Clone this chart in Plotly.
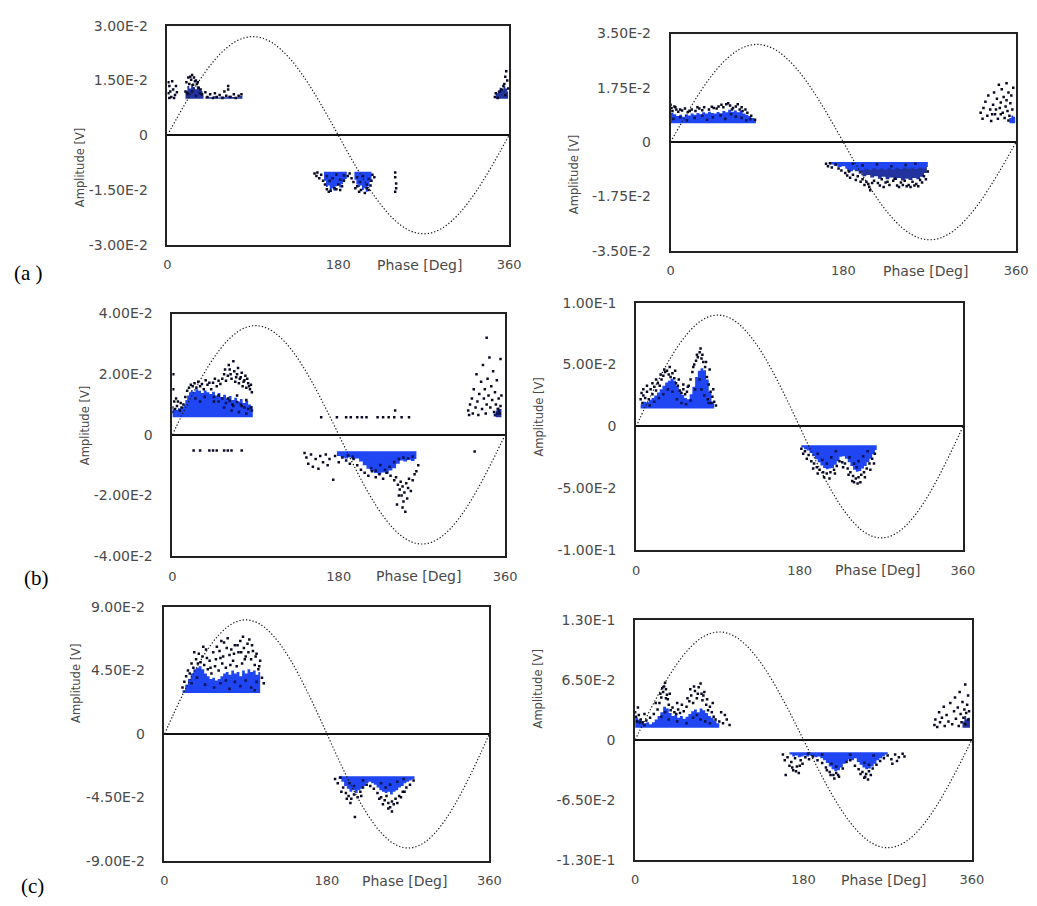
import plotly.graph_objects as go

W, H = 1037, 906

# ---------------------------------------------------------------------------
# Reference supply voltage, normalised, sampled every 10 degrees
# ---------------------------------------------------------------------------
wave_phase = list(range(0, 361, 10))
wave_shape = [0.000, 0.174, 0.342, 0.500, 0.643, 0.766, 0.866, 0.940, 0.985, 1.000,
              0.985, 0.940, 0.866, 0.766, 0.643, 0.500, 0.342, 0.174, 0.000,
              -0.174, -0.342, -0.500, -0.643, -0.766, -0.866, -0.940, -0.985, -1.000,
              -0.985, -0.940, -0.866, -0.766, -0.643, -0.500, -0.342, -0.174, 0.000]

phase_ticks = [0, 180, 360]
axis_limit = [0.030, 0.035, 0.040, 0.100, 0.090, 0.130]
wave_peak = [0.027, 0.0315, 0.036, 0.090, 0.081, 0.117]
amp_tick_text = [
    ["3.00E-2", "1.50E-2", "0", "-1.50E-2", "-3.00E-2"],
    ["3.50E-2", "1.75E-2", "0", "-1.75E-2", "-3.50E-2"],
    ["4.00E-2", "2.00E-2", "0", "-2.00E-2", "-4.00E-2"],
    ["1.00E-1", "5.00E-2", "0", "-5.00E-2", "-1.00E-1"],
    ["9.00E-2", "4.50E-2", "0", "-4.50E-2", "-9.00E-2"],
    ["1.30E-1", "6.50E-2", "0", "-6.50E-2", "-1.30E-1"],
]
panel_tags = ["(a )", "(b)", "(c)"]

BLUE = "#1f46f2"
NAVY = "#22339f"

# ---------------------------------------------------------------------------
# Pulse clusters: phase list, edge amplitude list, trigger level, colour
# ---------------------------------------------------------------------------
# (a) left
a1_p2_phase = [19, 21, 23, 25, 27, 29, 31, 33, 35, 37, 38]
a1_p2_edge = [0.0122, 0.0135, 0.0128, 0.0140, 0.0132, 0.0126, 0.0134, 0.0127, 0.0121, 0.0115, 0.0108]
a1_tail_phase = [40, 44, 48, 52, 56, 60, 64, 68, 72, 76, 79]
a1_tail_edge = [0.0106, 0.0104, 0.0107, 0.0103, 0.0106, 0.0104, 0.0108, 0.0105, 0.0104, 0.0108, 0.0106]
a1_end_phase = [346, 348, 350, 352, 354, 356, 358, 359]
a1_end_edge = [0.0115, 0.0122, 0.0130, 0.0126, 0.0134, 0.0128, 0.0120, 0.0112]
a1_n1_phase = [165, 167, 169, 171, 173, 175, 177, 179, 181, 183, 185, 187, 189]
a1_n1_edge = [-0.0125, -0.0142, -0.0138, -0.0150, -0.0146, -0.0152, -0.0140, -0.0136,
              -0.0143, -0.0134, -0.0128, -0.0120, -0.0110]
a1_n2_phase = [197, 199, 201, 203, 205, 207, 209, 211, 213, 215]
a1_n2_edge = [-0.0122, -0.0135, -0.0142, -0.0138, -0.0150, -0.0145, -0.0155, -0.0140, -0.0128, -0.0112]
a1_dots = [(1, 0.0145), (2, 0.0135), (3, 0.0120), (1, 0.0115), (4, 0.0105), (6, 0.0125),
           (8, 0.0110), (9, 0.0135), (2, 0.0102), (7, 0.0102), (5, 0.0148), (10, 0.0118),
           (20, 0.0145), (22, 0.0158), (24, 0.0160), (26, 0.0165), (28, 0.0158), (30, 0.0150),
           (32, 0.0145), (23, 0.0140), (27, 0.0138), (33, 0.0130), (35, 0.0125), (19, 0.0120),
           (21, 0.0115), (36, 0.0112), (29, 0.0148), (25, 0.0152), (31, 0.0140),
           (40, 0.0118), (42, 0.0105), (45, 0.0112),
           (48, 0.0102), (50, 0.0115), (52, 0.0105), (55, 0.0110), (58, 0.0102), (60, 0.0120),
           (62, 0.0108), (64, 0.0135), (64, 0.0125), (66, 0.0105), (70, 0.0112), (72, 0.0102),
           (75, 0.0108), (78, 0.0112), (345, 0.0105), (346, 0.0115), (348, 0.0102),
           (350, 0.0120), (352, 0.0125), (354, 0.0135), (355, 0.0140), (356, 0.0160),
           (357, 0.0175), (358, 0.0150), (356, 0.0110), (359, 0.0128),
           (155, -0.0105), (157, -0.0112), (158, -0.0102), (160, -0.0118), (162, -0.0108),
           (164, -0.0125), (166, -0.0135), (168, -0.0148), (172, -0.0152), (176, -0.0145),
           (180, -0.0135), (184, -0.0140), (186, -0.0125), (190, -0.0112), (192, -0.0105),
           (194, -0.0118), (196, -0.0128), (200, -0.0140), (204, -0.0150), (208, -0.0158),
           (212, -0.0150), (215, -0.0125), (216, -0.0108), (218, -0.0115), (240, -0.0102),
           (240, -0.0115), (241, -0.0132), (241, -0.0145), (240, -0.0155),
           (170, -0.0155), (178, -0.0148), (182, -0.0150), (198, -0.0145), (202, -0.0155),
           (210, -0.0145), (214, -0.0138)]
a1_inner = [(168, -0.0112), (171, -0.0125), (174, -0.0118), (178, -0.0108), (182, -0.0122),
            (186, -0.0110), (200, -0.0115), (203, -0.0128), (206, -0.0112), (210, -0.0135),
            (212, -0.0120), (22, 0.0112), (26, 0.0120), (30, 0.0108), (34, 0.0115)]

# (a) right
a2_pos_phase = [0, 3, 6, 9, 12, 15, 18, 21, 24, 27, 30, 33, 36, 39, 42, 45, 48, 51, 54, 57,
                60, 63, 66, 69, 72, 75, 78, 81, 84, 87, 89]
a2_pos_edge = [0.0095, 0.0090, 0.0084, 0.0088, 0.0082, 0.0090, 0.0086, 0.0092, 0.0088, 0.0094,
               0.0090, 0.0096, 0.0092, 0.0098, 0.0094, 0.0092, 0.0097, 0.0093, 0.0100, 0.0096,
               0.0104, 0.0098, 0.0102, 0.0096, 0.0100, 0.0092, 0.0088, 0.0084, 0.0078, 0.0072, 0.0066]
a2_end_phase = [353, 355, 357, 359]
a2_end_edge = [0.0078, 0.0086, 0.0082, 0.0090]
a2_deep_phase = [184, 188, 192, 196, 200, 204, 208, 212, 216, 220, 224, 228, 232, 236, 240,
                 244, 248, 252, 256, 260, 264, 267]
a2_deep_edge = [-0.0095, -0.0088, -0.0094, -0.0102, -0.0110, -0.0106, -0.0114, -0.0110, -0.0118,
                -0.0112, -0.0120, -0.0114, -0.0122, -0.0116, -0.0124, -0.0118, -0.0122, -0.0116,
                -0.0120, -0.0112, -0.0100, -0.0085]
a2_neg_phase = [166, 170, 174, 178, 182, 186, 190, 194, 198, 202, 206, 210, 214, 218, 222,
                226, 230, 234, 238, 242, 246, 250, 254, 258, 262, 266, 268]
a2_neg_edge = [-0.0072, -0.0076, -0.0080, -0.0078, -0.0086, -0.0094, -0.0088, -0.0092, -0.0090,
               -0.0086, -0.0090, -0.0084, -0.0088, -0.0085, -0.0089, -0.0084, -0.0088, -0.0083,
               -0.0087, -0.0082, -0.0086, -0.0083, -0.0087, -0.0082, -0.0085, -0.0080, -0.0074]
a2_dots = [(0, 0.0120), (1, 0.0110), (2, 0.0100), (4, 0.0115), (6, 0.0105), (8, 0.0098),
           (12, 0.0102), (15, 0.0108), (18, 0.0097), (22, 0.0105), (26, 0.0100), (30, 0.0108),
           (35, 0.0112), (40, 0.0105), (45, 0.0110), (50, 0.0115), (55, 0.0112), (58, 0.0122),
           (62, 0.0118), (65, 0.0110), (68, 0.0115), (72, 0.0105), (75, 0.0100), (80, 0.0095),
           (84, 0.0085), (88, 0.0072), (5, 0.0112), (10, 0.0105), (20, 0.0100), (28, 0.0112),
           (33, 0.0103), (43, 0.0114), (48, 0.0108), (53, 0.0120), (60, 0.0125), (64, 0.0105),
           (70, 0.0122), (74, 0.0112), (78, 0.0105),
           (323, 0.0095), (325, 0.0075), (326, 0.0110), (328, 0.0130),
           (330, 0.0085), (331, 0.0150), (333, 0.0105), (334, 0.0068), (336, 0.0120),
           (337, 0.0160), (338, 0.0090), (340, 0.0140), (341, 0.0075), (342, 0.0185),
           (343, 0.0110), (344, 0.0128), (345, 0.0170), (346, 0.0095), (347, 0.0145),
           (348, 0.0078), (349, 0.0115), (350, 0.0190), (350, 0.0135), (351, 0.0100),
           (352, 0.0160), (353, 0.0085), (354, 0.0125), (355, 0.0150), (356, 0.0105),
           (357, 0.0175), (352, 0.0070), (344, 0.0090), (339, 0.0105), (335, 0.0090),
           (162, -0.0070), (164, -0.0078), (166, -0.0068), (168, -0.0082), (172, -0.0072),
           (175, -0.0085), (178, -0.0092), (182, -0.0100), (184, -0.0108), (186, -0.0095),
           (190, -0.0105), (195, -0.0110), (200, -0.0120), (204, -0.0128), (206, -0.0135),
           (207, -0.0145), (208, -0.0155), (212, -0.0125), (216, -0.0132), (220, -0.0120),
           (224, -0.0130), (228, -0.0138), (232, -0.0125), (236, -0.0140), (240, -0.0130),
           (244, -0.0125), (248, -0.0138), (252, -0.0128), (256, -0.0135), (260, -0.0122),
           (264, -0.0110), (268, -0.0095), (262, -0.0130), (246, -0.0142), (234, -0.0118),
           (187, -0.0115), (193, -0.0122), (198, -0.0128), (202, -0.0138), (210, -0.0132),
           (218, -0.0140), (222, -0.0145), (226, -0.0128), (238, -0.0145), (242, -0.0138),
           (250, -0.0145), (254, -0.0140), (258, -0.0142), (266, -0.0120)]
a2_inner = [(3, 0.0075), (10, 0.0080), (17, 0.0070), (25, 0.0078), (33, 0.0085), (38, 0.0072),
            (44, 0.0080), (52, 0.0086), (57, 0.0075), (63, 0.0090), (68, 0.0082), (74, 0.0078),
            (79, 0.0070), (83, 0.0074), (190, -0.0070), (200, -0.0075), (215, -0.0072),
            (230, -0.0078), (245, -0.0074), (255, -0.0070)]

# (b) left
b1_pos_phase = [0, 3, 6, 9, 12, 14, 16, 18, 20, 22, 25, 28, 31, 34, 37, 40, 43, 46, 49, 52,
                55, 58, 61, 64, 67, 70, 73, 76, 79, 82, 85, 87]
b1_pos_edge = [0.0085, 0.0082, 0.0088, 0.0092, 0.0100, 0.0115, 0.0130, 0.0140, 0.0148, 0.0142,
               0.0150, 0.0145, 0.0138, 0.0146, 0.0140, 0.0135, 0.0142, 0.0130, 0.0138, 0.0125,
               0.0132, 0.0120, 0.0128, 0.0115, 0.0122, 0.0110, 0.0118, 0.0105, 0.0112, 0.0100,
               0.0095, 0.0090]
b1_end_phase = [350, 352, 354, 356]
b1_end_edge = [0.0080, 0.0090, 0.0085, 0.0075]
b1_neg_phase = [178, 182, 186, 190, 194, 198, 202, 206, 210, 214, 218, 222, 226, 230, 234,
                238, 242, 246, 250, 254, 258, 262, 264]
b1_neg_edge = [-0.0070, -0.0074, -0.0078, -0.0075, -0.0080, -0.0078, -0.0088, -0.0100, -0.0112,
               -0.0120, -0.0126, -0.0130, -0.0124, -0.0128, -0.0118, -0.0110, -0.0095, -0.0085,
               -0.0088, -0.0082, -0.0086, -0.0080, -0.0076]
b1_dots = [(0, 0.0075), (0, 0.0090), (1, 0.0200), (1, 0.0150), (2, 0.0110), (3, 0.0085),
           (5, 0.0095), (8, 0.0080), (10, 0.0090), (12, 0.0100), (14, 0.0125), (16, 0.0145),
           (18, 0.0155), (20, 0.0165), (22, 0.0160), (24, 0.0170), (26, 0.0155), (30, 0.0160),
           (34, 0.0150), (38, 0.0165), (42, 0.0150), (44, 0.0172), (48, 0.0160), (52, 0.0168),
           (54, 0.0185), (56, 0.0200), (58, 0.0178), (60, 0.0195), (62, 0.0215), (64, 0.0185),
           (66, 0.0243), (68, 0.0175), (70, 0.0200), (72, 0.0170), (74, 0.0190), (76, 0.0160),
           (78, 0.0180), (80, 0.0155), (82, 0.0170), (84, 0.0150), (86, 0.0140),
           (60, 0.0120), (65, 0.0100), (70, 0.0130), (75, 0.0095), (80, 0.0115), (85, 0.0090),
           (50, 0.0130), (45, 0.0110), (28, 0.0175), (32, 0.0168), (36, 0.0180), (40, 0.0172),
           (46, 0.0185), (50, 0.0178), (57, 0.0215), (61, 0.0230), (63, 0.0200), (67, 0.0210),
           (69, 0.0190), (71, 0.0220), (73, 0.0185), (75, 0.0205), (77, 0.0175), (79, 0.0195),
           (81, 0.0185), (83, 0.0160), (85, 0.0165), (4, 0.0120), (6, 0.0110), (9, 0.0105),
           (161, 0.0058), (178, 0.0058), (188, 0.0058), (193, 0.0058), (200, 0.0058),
           (205, 0.0058), (210, 0.0058), (222, 0.0058), (228, 0.0058), (234, 0.0058),
           (240, 0.0058), (248, 0.0058), (256, 0.0058), (241, 0.0080),
           (23, -0.0052), (30, -0.0052), (40, -0.0052), (44, -0.0052), (48, -0.0052),
           (56, -0.0052), (60, -0.0052), (64, -0.0052), (75, -0.0052), (327, -0.0055),
           (320, 0.0080), (321, 0.0065), (322, 0.0100), (324, 0.0120), (325, 0.0070),
           (326, 0.0150), (328, 0.0090), (329, 0.0200), (330, 0.0110), (331, 0.0065),
           (332, 0.0135), (334, 0.0175), (335, 0.0085), (336, 0.0230), (337, 0.0120),
           (338, 0.0150), (339, 0.0070), (340, 0.0320), (340, 0.0100), (341, 0.0185),
           (342, 0.0130), (343, 0.0255), (344, 0.0090), (345, 0.0160), (346, 0.0115),
           (347, 0.0210), (348, 0.0075), (349, 0.0140), (350, 0.0100), (351, 0.0180),
           (352, 0.0085), (353, 0.0120), (354, 0.0070), (355, 0.0250), (355, 0.0095),
           (356, 0.0130),
           (143, -0.0060), (145, -0.0075), (147, -0.0095), (150, -0.0065), (152, -0.0105),
           (155, -0.0080), (158, -0.0112), (160, -0.0070), (163, -0.0090), (166, -0.0065),
           (168, -0.0100), (170, -0.0080), (174, -0.0148), (176, -0.0070), (180, -0.0090),
           (184, -0.0075), (188, -0.0085), (192, -0.0095), (196, -0.0080), (200, -0.0100),
           (204, -0.0115), (208, -0.0125), (212, -0.0135), (216, -0.0120), (220, -0.0140),
           (224, -0.0130), (228, -0.0145), (232, -0.0125), (236, -0.0135), (240, -0.0150),
           (242, -0.0140), (244, -0.0165), (246, -0.0180), (247, -0.0155), (248, -0.0200),
           (249, -0.0170), (250, -0.0220), (251, -0.0190), (252, -0.0254), (253, -0.0160),
           (254, -0.0210), (255, -0.0175), (256, -0.0145), (258, -0.0185), (260, -0.0150),
           (262, -0.0130), (264, -0.0120), (266, -0.0100), (245, -0.0200), (243, -0.0230),
           (249, -0.0240)]
b1_inner = [(45, 0.0125), (50, 0.0110), (54, 0.0120), (58, 0.0105), (62, 0.0112), (66, 0.0095),
            (70, 0.0108), (74, 0.0100), (78, 0.0090), (82, 0.0085), (86, 0.0080), (56, 0.0090),
            (64, 0.0080), (72, 0.0075), (80, 0.0070), (25, 0.0120), (30, 0.0110), (35, 0.0125),
            (215, -0.0110), (220, -0.0118), (225, -0.0100), (230, -0.0115), (235, -0.0105),
            (240, -0.0090), (245, -0.0080), (250, -0.0075), (255, -0.0078), (260, -0.0072),
            (190, -0.0068), (195, -0.0072), (349, 0.0065), (351, 0.0070), (353, 0.0078)]

# (b) right
b2_pos_phase = [5, 8, 11, 14, 17, 20, 23, 26, 29, 32, 35, 38, 41, 44, 47, 50, 53, 56, 59, 62,
                65, 68, 71, 74, 77, 80, 83, 86]
b2_pos_edge = [0.0180, 0.0200, 0.0195, 0.0215, 0.0230, 0.0250, 0.0275, 0.0300, 0.0330, 0.0355,
               0.0370, 0.0385, 0.0370, 0.0330, 0.0290, 0.0255, 0.0230, 0.0220, 0.0260, 0.0320,
               0.0400, 0.0450, 0.0470, 0.0455, 0.0380, 0.0280, 0.0200, 0.0160]
b2_neg_phase = [182, 185, 188, 191, 194, 197, 200, 203, 206, 209, 212, 215, 218, 221, 224,
                227, 230, 233, 236, 239, 242, 245, 248, 251, 254, 257, 260, 263, 265]
b2_neg_edge = [-0.0170, -0.0185, -0.0195, -0.0215, -0.0240, -0.0265, -0.0290, -0.0315, -0.0335,
               -0.0345, -0.0340, -0.0335, -0.0310, -0.0280, -0.0245, -0.0240, -0.0260, -0.0290,
               -0.0320, -0.0350, -0.0365, -0.0360, -0.0340, -0.0320, -0.0290, -0.0260, -0.0225,
               -0.0190, -0.0165]
b2_dots = [(5, 0.022), (6, 0.027), (7, 0.019), (8, 0.025), (10, 0.023), (12, 0.028), (14, 0.022),
           (16, 0.030), (18, 0.026), (20, 0.032), (22, 0.029), (24, 0.035), (26, 0.033),
           (28, 0.038), (30, 0.041), (32, 0.044), (34, 0.045), (36, 0.042), (38, 0.040),
           (40, 0.043), (42, 0.039), (44, 0.035), (46, 0.033), (48, 0.029), (50, 0.027),
           (52, 0.030), (54, 0.026), (56, 0.028), (58, 0.033), (60, 0.038), (62, 0.044),
           (64, 0.050), (66, 0.053), (68, 0.056), (70, 0.060), (72, 0.055), (74, 0.052),
           (76, 0.048), (78, 0.040), (80, 0.034), (82, 0.028), (84, 0.024), (86, 0.020),
           (88, 0.017), (79, 0.022), (83, 0.019),
           (8, 0.030), (12, 0.033), (18, 0.035), (22, 0.038), (27, 0.042), (31, 0.046),
           (37, 0.048), (43, 0.045), (47, 0.038), (52, 0.034), (57, 0.032), (63, 0.048),
           (67, 0.058), (71, 0.063), (73, 0.058), (77, 0.052), (81, 0.046), (85, 0.030),
           (182, -0.018), (184, -0.022), (186, -0.020), (188, -0.026), (190, -0.023),
           (193, -0.028), (196, -0.030), (199, -0.033), (202, -0.035), (206, -0.037),
           (210, -0.038), (214, -0.037), (218, -0.035), (221, -0.032), (224, -0.028),
           (227, -0.029), (230, -0.030), (233, -0.034), (236, -0.037), (239, -0.040),
           (242, -0.042), (245, -0.041), (248, -0.039), (251, -0.037), (254, -0.034),
           (257, -0.030), (260, -0.026), (263, -0.022), (240, -0.045), (244, -0.046),
           (195, -0.034), (200, -0.038), (207, -0.041), (213, -0.042), (219, -0.038),
           (228, -0.033), (234, -0.039), (238, -0.044), (247, -0.045), (252, -0.041),
           (258, -0.035), (262, -0.030)]
b2_inner = [(20, 0.020), (25, 0.023), (30, 0.026), (35, 0.030), (40, 0.028), (45, 0.022),
            (50, 0.019), (55, 0.018), (60, 0.021), (65, 0.030), (70, 0.038), (72, 0.030),
            (75, 0.025), (80, 0.019), (15, 0.017), (200, -0.022), (205, -0.027), (210, -0.030),
            (215, -0.025), (220, -0.020), (235, -0.025), (240, -0.030), (245, -0.028),
            (250, -0.024), (255, -0.020), (243, -0.033)]

# (c) left
c1_pos_phase = [20, 23, 26, 29, 32, 35, 38, 41, 44, 47, 50, 53, 56, 59, 62, 65, 68, 71, 74,
                77, 80, 83, 86, 89, 92, 95, 98, 101, 104, 106]
c1_pos_edge = [0.031, 0.035, 0.039, 0.043, 0.046, 0.047, 0.048, 0.046, 0.043, 0.041, 0.039,
               0.040, 0.038, 0.039, 0.041, 0.043, 0.044, 0.042, 0.045, 0.043, 0.044, 0.041,
               0.045, 0.043, 0.046, 0.044, 0.045, 0.042, 0.044, 0.041]
c1_neg_phase = [193, 196, 199, 202, 205, 208, 211, 214, 217, 220, 223, 226, 229, 232, 235,
                238, 241, 244, 247, 250, 253, 256, 259, 262, 265, 268, 271, 274, 277]
c1_neg_edge = [-0.032, -0.034, -0.037, -0.039, -0.041, -0.040, -0.042, -0.040, -0.039, -0.037,
               -0.035, -0.034, -0.035, -0.036, -0.038, -0.040, -0.041, -0.042, -0.041, -0.043,
               -0.041, -0.040, -0.038, -0.037, -0.035, -0.034, -0.033, -0.032, -0.031]
c1_dots = [(20, 0.033), (22, 0.037), (24, 0.041), (26, 0.045), (28, 0.043), (30, 0.050),
           (32, 0.047), (35, 0.053), (38, 0.057), (40, 0.051), (42, 0.055), (44, 0.049),
           (46, 0.060), (48, 0.046), (50, 0.052), (52, 0.043), (54, 0.058), (56, 0.048),
           (58, 0.062), (60, 0.045), (62, 0.054), (64, 0.050), (66, 0.065), (68, 0.047),
           (70, 0.068), (72, 0.056), (74, 0.060), (76, 0.052), (78, 0.063), (80, 0.048),
           (82, 0.058), (84, 0.066), (86, 0.050), (88, 0.061), (90, 0.055), (92, 0.064),
           (94, 0.067), (96, 0.053), (98, 0.059), (100, 0.049), (102, 0.057), (104, 0.046),
           (106, 0.052), (110, 0.036), (108, 0.040),
           (33, 0.058), (37, 0.050), (43, 0.062), (47, 0.054), (51, 0.047), (57, 0.053),
           (61, 0.059), (65, 0.055), (69, 0.061), (73, 0.049), (77, 0.057), (81, 0.063),
           (85, 0.058), (89, 0.053), (93, 0.058), (97, 0.063), (101, 0.055), (105, 0.048),
           (63, 0.066), (87, 0.069),
           (189, -0.032), (192, -0.035), (195, -0.031), (198, -0.038), (201, -0.042),
           (204, -0.044), (207, -0.046), (210, -0.043), (211, -0.059), (214, -0.045),
           (217, -0.041), (220, -0.038), (224, -0.036), (228, -0.037), (232, -0.039),
           (236, -0.042), (240, -0.045), (244, -0.047), (248, -0.049), (250, -0.052),
           (252, -0.048), (256, -0.046), (260, -0.044), (264, -0.041), (268, -0.038),
           (272, -0.036), (276, -0.033), (246, -0.044), (254, -0.050),
           (196, -0.041), (202, -0.046), (206, -0.049), (218, -0.044), (238, -0.046),
           (242, -0.050), (248, -0.053), (258, -0.049), (262, -0.045), (266, -0.041),
           (252, -0.055)]
c1_inner = [(30, 0.036), (36, 0.040), (45, 0.035), (55, 0.033), (62, 0.036), (68, 0.038),
            (72, 0.032), (78, 0.037), (84, 0.034), (90, 0.038), (96, 0.033), (102, 0.037),
            (100, 0.031), (205, -0.035), (210, -0.037), (220, -0.033), (240, -0.035),
            (245, -0.038), (250, -0.036), (258, -0.034), (265, -0.032)]

# (c) right
c2_pos_phase = [0, 3, 6, 9, 12, 15, 18, 21, 24, 27, 30, 33, 36, 39, 42, 45, 48, 51, 54, 57,
                60, 63, 66, 69, 72, 75, 78, 81, 84, 87, 90]
c2_pos_edge = [0.024, 0.022, 0.020, 0.018, 0.019, 0.017, 0.019, 0.022, 0.026, 0.030, 0.036,
               0.034, 0.029, 0.026, 0.027, 0.024, 0.026, 0.023, 0.025, 0.028, 0.031, 0.033,
               0.030, 0.034, 0.032, 0.029, 0.026, 0.024, 0.021, 0.018, 0.015]
c2_end_phase = [350, 352, 354, 356, 358]
c2_end_edge = [0.020, 0.026, 0.022, 0.024, 0.018]
c2_neg_phase = [165, 168, 171, 174, 177, 180, 183, 186, 189, 192, 195, 198, 201, 204, 207,
                210, 213, 216, 219, 222, 225, 228, 231, 234, 237, 240, 243, 246, 249, 252,
                255, 258, 261, 264, 267, 270]
c2_neg_edge = [-0.016, -0.018, -0.017, -0.019, -0.018, -0.017, -0.018, -0.017, -0.018, -0.019,
               -0.018, -0.020, -0.022, -0.025, -0.029, -0.032, -0.034, -0.033, -0.030, -0.026,
               -0.023, -0.021, -0.022, -0.020, -0.024, -0.027, -0.030, -0.032, -0.031, -0.029,
               -0.026, -0.022, -0.020, -0.018, -0.016, -0.015]
c2_dots = [(0, 0.030), (1, 0.025), (2, 0.020), (4, 0.027), (6, 0.022), (8, 0.019), (12, 0.021),
           (16, 0.024), (20, 0.028), (24, 0.033), (26, 0.040), (28, 0.046), (30, 0.052),
           (31, 0.058), (32, 0.062), (33, 0.055), (34, 0.049), (35, 0.044), (36, 0.038),
           (38, 0.032), (40, 0.035), (42, 0.030), (44, 0.028), (46, 0.033), (48, 0.029),
           (52, 0.031), (55, 0.036), (58, 0.042), (60, 0.048), (62, 0.040), (64, 0.053),
           (66, 0.045), (68, 0.057), (70, 0.061), (71, 0.050), (72, 0.043), (74, 0.052),
           (76, 0.038), (78, 0.032), (80, 0.036), (82, 0.030), (84, 0.025), (86, 0.022),
           (90, 0.020), (94, 0.018), (98, 0.022), (101, 0.016),
           (3, 0.035), (10, 0.028), (22, 0.040), (27, 0.050), (29, 0.056), (33, 0.045),
           (37, 0.050), (45, 0.040), (50, 0.038), (56, 0.045), (59, 0.055), (63, 0.058),
           (67, 0.050), (73, 0.048), (77, 0.044), (83, 0.040), (92, 0.030), (96, 0.027),
           (320, 0.016), (321, 0.022), (323, 0.014), (325, 0.030), (326, 0.019), (328, 0.024),
           (330, 0.036), (331, 0.015), (333, 0.027), (335, 0.020), (337, 0.040), (339, 0.017),
           (341, 0.031), (342, 0.046), (343, 0.023), (345, 0.035), (346, 0.015), (347, 0.052),
           (348, 0.028), (349, 0.019), (350, 0.041), (351, 0.024), (352, 0.033), (353, 0.060),
           (353, 0.017), (354, 0.029), (355, 0.038), (356, 0.022), (356, 0.048), (357, 0.031),
           (158, -0.016), (160, -0.022), (161, -0.038), (163, -0.019), (165, -0.028),
           (167, -0.024), (169, -0.033), (171, -0.020), (173, -0.029), (175, -0.036),
           (177, -0.022), (179, -0.026), (182, -0.019), (186, -0.021), (190, -0.018),
           (195, -0.022), (200, -0.025), (204, -0.030), (208, -0.035), (212, -0.038),
           (215, -0.036), (218, -0.040), (222, -0.031), (226, -0.024), (230, -0.022),
           (235, -0.028), (239, -0.032), (243, -0.035), (247, -0.037), (250, -0.034),
           (254, -0.031), (258, -0.027), (262, -0.023), (266, -0.020), (270, -0.017),
           (274, -0.021), (278, -0.016), (282, -0.019), (286, -0.015), (288, -0.018),
           (246, -0.040), (168, -0.030), (172, -0.034), (176, -0.028), (205, -0.033),
           (209, -0.038), (213, -0.042), (217, -0.038), (241, -0.037), (245, -0.041),
           (249, -0.043), (252, -0.038), (275, -0.026), (280, -0.023)]
c2_inner = [(28, 0.025), (32, 0.030), (36, 0.022), (45, 0.020), (55, 0.018), (62, 0.024),
            (66, 0.027), (70, 0.022), (75, 0.020), (80, 0.018), (10, 0.016), (5, 0.019),
            (210, -0.026), (215, -0.029), (245, -0.025), (250, -0.027), (185, -0.015),
            (200, -0.016), (230, -0.016), (255, -0.017)]

panel_clusters = [
    [(a1_p2_phase, a1_p2_edge, 0.0100, NAVY), (a1_tail_phase, a1_tail_edge, 0.0100, NAVY),
     (a1_end_phase, a1_end_edge, 0.0100, NAVY), (a1_n1_phase, a1_n1_edge, -0.0100, BLUE),
     (a1_n2_phase, a1_n2_edge, -0.0100, BLUE)],
    [(a2_pos_phase, a2_pos_edge, 0.0061, BLUE), (a2_end_phase, a2_end_edge, 0.0061, BLUE),
     (a2_deep_phase, a2_deep_edge, -0.0064, NAVY), (a2_neg_phase, a2_neg_edge, -0.0064, BLUE)],
    [(b1_pos_phase, b1_pos_edge, 0.0058, BLUE), (b1_end_phase, b1_end_edge, 0.0058, NAVY),
     (b1_neg_phase, b1_neg_edge, -0.0054, BLUE)],
    [(b2_pos_phase, b2_pos_edge, 0.0145, BLUE), (b2_neg_phase, b2_neg_edge, -0.0152, BLUE)],
    [(c1_pos_phase, c1_pos_edge, 0.029, BLUE), (c1_neg_phase, c1_neg_edge, -0.030, BLUE)],
    [(c2_pos_phase, c2_pos_edge, 0.0131, BLUE), (c2_end_phase, c2_end_edge, 0.0131, NAVY),
     (c2_neg_phase, c2_neg_edge, -0.0134, BLUE)],
]
panel_dots = [a1_dots, a2_dots, b1_dots, b2_dots, c1_dots, c2_dots]
panel_inner = [a1_inner, a2_inner, b1_inner, b2_inner, c1_inner, c2_inner]

# plot-area boxes in pixels: left, right, top, bottom
BOXES = [(166, 513, 18, 241), (677, 1028, 26, 247), (171, 509, 311, 558),
         (642, 974, 300, 552), (163, 493, 610, 868), (641, 983, 623, 867)]
TAG_POS = [(25, 270), (33, 580), (29, 894)]

TEXT = "#4a4a4a"
FONT = "DejaVu Sans"

fig = go.Figure()
annotations = []
layout = {}

for i in range(6):
    n = i + 1
    xref = "x" if n == 1 else f"x{n}"
    yref = "y" if n == 1 else f"y{n}"
    left, right, top, bottom = BOXES[i]
    lim = axis_limit[i]

    # pulse clusters
    for phases, edge, floor, colour in panel_clusters[i]:
        fig.add_trace(go.Scatter(
            x=list(phases) + list(phases[::-1]),
            y=list(edge) + [floor] * len(phases),
            mode="lines", fill="toself", fillcolor=colour,
            line=dict(width=0, shape="hv"), hoverinfo="skip",
            xaxis=xref, yaxis=yref))

    # darker pulses inside the dense regions
    inner = panel_inner[i]
    fig.add_trace(go.Scatter(
        x=[d[0] for d in inner], y=[d[1] for d in inner], mode="markers",
        marker=dict(symbol="square", size=2.6, color="#0c145a", line=dict(width=0)),
        hoverinfo="skip", xaxis=xref, yaxis=yref))

    # individual discharge pulses
    dots = panel_dots[i]
    fig.add_trace(go.Scatter(
        x=[d[0] for d in dots], y=[d[1] for d in dots], mode="markers",
        marker=dict(symbol="square", size=2.5, color="#0a0a25", line=dict(width=0)),
        hoverinfo="skip", xaxis=xref, yaxis=yref))

    # supply voltage reference
    fig.add_trace(go.Scatter(
        x=wave_phase, y=[v * wave_peak[i] for v in wave_shape], mode="lines",
        line=dict(color="#1a1a1a", width=1.2, dash="1.3px,2px", shape="spline"),
        hoverinfo="skip", xaxis=xref, yaxis=yref))

    layout[f"xaxis{n}"] = dict(
        domain=[left / W, right / W], range=[0, 360], anchor=yref,
        tickvals=phase_ticks, ticktext=[str(t) for t in phase_ticks],
        showgrid=False, zeroline=False, showline=True, mirror=True,
        linecolor="#222", linewidth=1.6, ticks="", ticklabelstandoff=7,
        tickfont=dict(family=FONT, size=13, color=TEXT))
    layout[f"yaxis{n}"] = dict(
        domain=[1 - bottom / H, 1 - top / H], range=[-lim, lim], anchor=xref,
        tickvals=[lim, lim / 2, 0, -lim / 2, -lim], ticktext=amp_tick_text[i],
        showgrid=False, zeroline=True, zerolinecolor="#111", zerolinewidth=1.5,
        showline=True, mirror=True, linecolor="#222", linewidth=1.6,
        ticks="", ticklabelstandoff=15,
        tickfont=dict(family=FONT, size=14, color=TEXT))

    annotations.append(dict(
        text="Phase [Deg]", x=266, xref=xref, y=1 - bottom / H, yref="paper",
        yanchor="middle", yshift=-20, showarrow=False,
        font=dict(family=FONT, size=14, color=TEXT)))
    annotations.append(dict(
        text="Amplitude [V]", x=left / W, xref="paper", xshift=-97,
        y=1 - (top + bottom) / 2 / H, yref="paper", yshift=9, textangle=-90,
        showarrow=False, font=dict(family=FONT, size=11.5, color=TEXT)))

for tag, (tx, ty) in zip(panel_tags, TAG_POS):
    annotations.append(dict(
        text=tag, x=tx / W, y=1 - ty / H, xref="paper", yref="paper",
        xanchor="center", yanchor="middle", showarrow=False,
        font=dict(family="Liberation Serif", size=21, color="#000")))

fig.update_layout(
    width=W, height=H, margin=dict(l=0, r=0, t=0, b=0),
    paper_bgcolor="white", plot_bgcolor="white", showlegend=False,
    annotations=annotations, **layout)

fig.write_html("out.html")
